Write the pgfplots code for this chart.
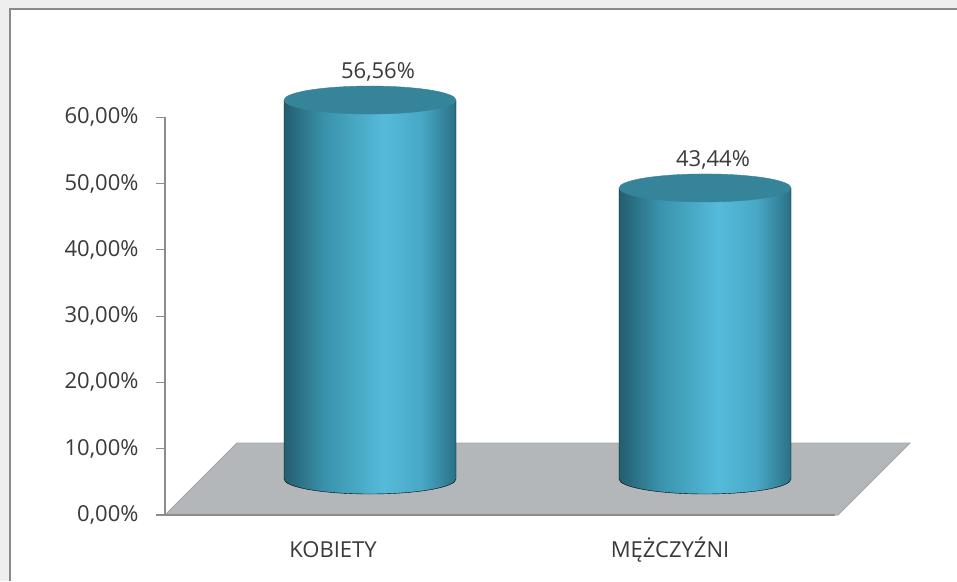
\documentclass[border=0pt]{standalone}
\usepackage{fontspec}
\setmainfont{Open Sans}
\usepackage{pgfplots}
\usepackage{pgfplotstable}
\pgfplotsset{compat=1.18}
\definecolor{axisgray}{HTML}{8C8C8C}
\definecolor{floorfill}{HTML}{B4B7BA}
\definecolor{flooredge}{HTML}{A2A5A8}
\definecolor{txt}{HTML}{3A3A3A}
\definecolor{bgouter}{HTML}{EEEEEE}
\definecolor{bordergray}{HTML}{8A8A8A}
\definecolor{cA}{HTML}{235E6E}
\definecolor{cB}{HTML}{3A93AC}
\definecolor{cC}{HTML}{55BBDA}
\definecolor{cD}{HTML}{48A8C5}
\definecolor{cE}{HTML}{2A7085}
\definecolor{cyltop}{HTML}{36849A}
\pgfdeclarehorizontalshading{cylbody}{100bp}{color(0bp)=(cA); color(25bp)=(cA); color(37bp)=(cB); color(54bp)=(cC); color(65bp)=(cD); color(75bp)=(cE); color(100bp)=(cE)}
\pgfplotstableread{
x b v
205 5.43 56.56
540 5.43 43.44
}\cyldata
\begin{document}
\begin{tikzpicture}
\useasboundingbox (0,0) rectangle (957pt,-581pt);
\fill[bgouter] (0,0) rectangle (957pt,-581pt);
\fill[white] (11pt,-10pt) rectangle (957pt,-581pt);
\draw[bordergray, line width=2pt] (10pt,-581pt) -- (10pt,-9pt) -- (957pt,-9pt);
\begin{axis}[
  at={(165pt,-515pt)}, anchor=south west,
  x=1pt, y=6.63pt,
  xmin=0, xmax=670, ymin=0, ymax=60,
  axis lines=left,
  axis line style={-, axisgray, line width=1.4pt},
  clip=false, axis on top,
  tick align=outside,
  ytick={0,10,...,60},
  yticklabels={{0,00\%},{10,00\%},{20,00\%},{30,00\%},{40,00\%},{50,00\%},{60,00\%}},
  xtick={168,505},
  xticklabels={KOBIETY,MĘŻCZYŹNI},
  minor xtick={0,335,670},
  major tick length=9pt,
  minor tick length=10pt,
  ytick style={axisgray, line width=1.2pt},
  xtick style={draw=none},
  minor x tick style={axisgray, line width=1.2pt},
  tick label style={font=\fontsize{22}{26}\selectfont, text=txt},
  xticklabel style={text height=16pt, yshift=-14pt},
  yticklabel style={xshift=-14pt},
]
\addplot[fill=floorfill, draw=flooredge, line width=0.8pt] coordinates {(0,0) (673,0) (745,10.86) (72,10.86) (0,0)};
\addplot[scatter, only marks, mark=*, mark size=0pt, mark options={draw=none, fill=none},
  visualization depends on={\thisrow{v} \as \val},
  scatter/@pre marker code/.code={%
    \pgfmathsetmacro{\h}{\val*6.7}%
    \shade[shading=cylbody] (-86pt,0pt) -- (-86pt,\h pt) -- (86pt,\h pt) -- (86pt,0pt) arc[start angle=0,end angle=-180,x radius=86pt,y radius=15pt] -- cycle;
    \fill[cyltop] (0pt,\h pt) ellipse[x radius=86pt,y radius=14pt];
    \node[text=txt, font=\fontsize{22}{26}\selectfont, anchor=center] at (8pt,\h pt+28pt) {\pgfmathprintnumber[fixed,fixed zerofill,precision=2,use comma,assume math mode=true]{\val}\%};
  },
  scatter/@post marker code/.code={},
] table[x=x, y=b] {\cyldata};
\end{axis}
\end{tikzpicture}
\end{document}
